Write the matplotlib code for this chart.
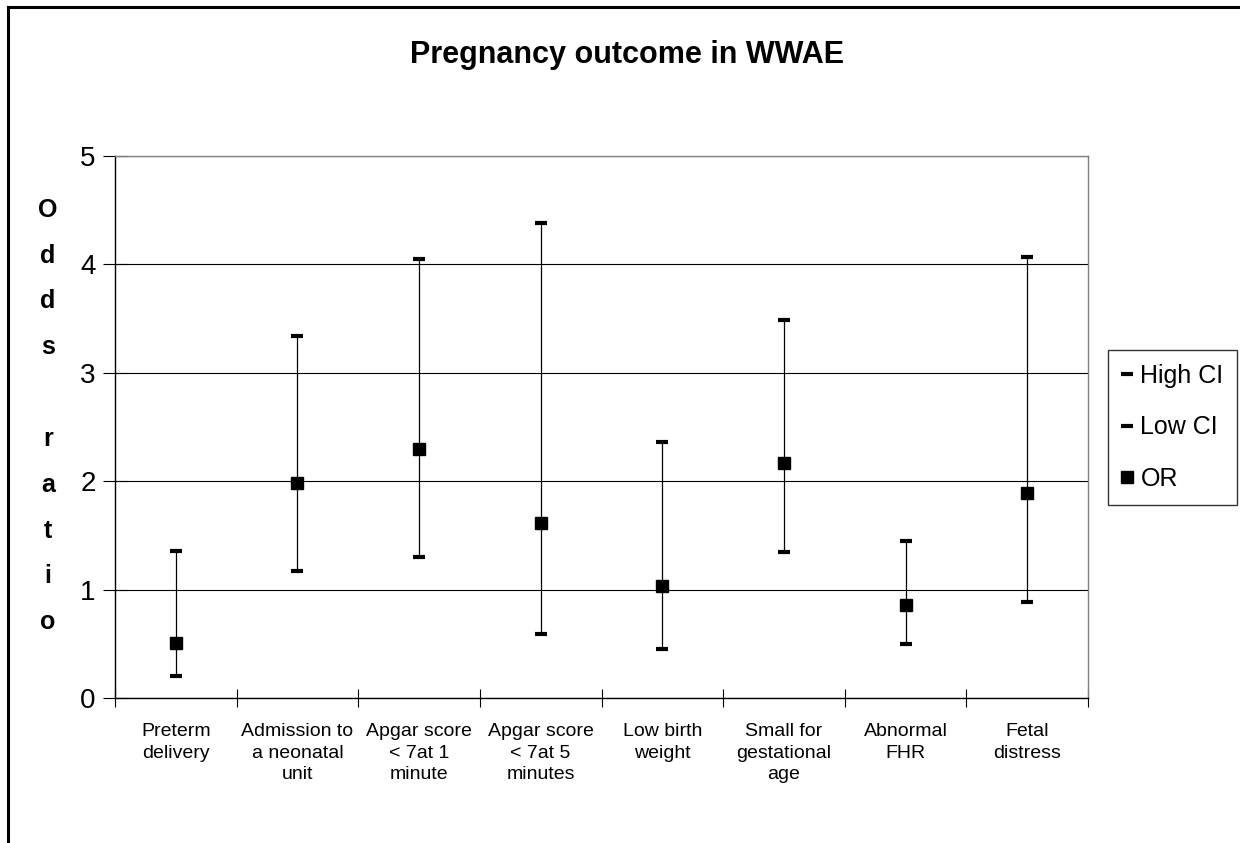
import matplotlib
matplotlib.use("Agg")
import matplotlib.pyplot as plt
from matplotlib.lines import Line2D
import numpy as np

categories = ["Preterm\ndelivery", "Admission to\na neonatal\nunit",
              "Apgar score\n< 7at 1\nminute", "Apgar score\n< 7at 5\nminutes",
              "Low birth\nweight", "Small for\ngestational\nage",
              "Abnormal\nFHR", "Fetal\ndistress"]
high_ci = [1.36, 3.34, 4.05, 4.38, 2.36, 3.49, 1.45, 4.07]
low_ci = [0.20, 1.17, 1.30, 0.59, 0.45, 1.35, 0.50, 0.89]
odds_ratio = [0.51, 1.98, 2.30, 1.61, 1.03, 2.17, 0.86, 1.89]
y_ticks = [0, 1, 2, 3, 4, 5]
title = "Pregnancy outcome in WWAE"

plt.rcParams['font.family'] = ['Liberation Sans', 'DejaVu Sans']

W, H = 1240, 843
fig = plt.figure(figsize=(W / 100, H / 100), dpi=100)
ax = fig.add_axes([115 / W, 1 - 698 / H, (1088 - 115) / W, (698 - 156) / H])

x = np.arange(len(categories))
ax.vlines(x, low_ci, high_ci, color='black', lw=0.9, zorder=3)
ax.plot(x, high_ci, ls='none', marker='_', ms=9, mew=3, color='black', label='High CI', zorder=4)
ax.plot(x, low_ci, ls='none', marker='_', ms=9, mew=3, color='black', label='Low CI', zorder=4)
ax.plot(x, odds_ratio, ls='none', marker='s', ms=8, color='black', label='OR', zorder=5)

ax.set_xlim(-0.5, len(categories) - 0.5)
ax.set_ylim(0, 5)
ax.set_yticks(y_ticks)
ax.set_yticklabels([str(t) for t in y_ticks], fontsize=20)
ax.yaxis.grid(True, color='black', lw=0.8)
ax.set_axisbelow(True)

ax.set_xticks(x)
ax.set_xticklabels(categories, fontsize=14, linespacing=1.35, ha='center', va='top')
ax.set_xticks(np.arange(len(categories) + 1) - 0.5, minor=True)
ax.tick_params(axis='x', which='major', length=0, pad=18)
ax.tick_params(axis='x', which='minor', length=13, direction='inout', width=0.8)
ax.tick_params(axis='y', which='major', length=18, direction='inout', width=0.8, pad=5)

for s in ['left', 'bottom']:
    ax.spines[s].set_color('black')
    ax.spines[s].set_linewidth(1.0)
for s in ['top', 'right']:
    ax.spines[s].set_color('#808080')
    ax.spines[s].set_linewidth(1.0)

# stacked y label
fig.text(48 / W, 1 - 416 / H, "\n".join(list("Odds")) + "\n\n" + "\n".join(list("ratio")),
         fontsize=18, fontweight='bold', ha='center', va='center', linespacing=2.15)

fig.text(627 / W, 1 - 55 / H, title, fontsize=22, fontweight='bold', ha='center', va='center')

leg = fig.legend(loc='upper left', bbox_to_anchor=(1108 / W, 1 - 350 / H), fontsize=18,
                 frameon=True, fancybox=False, edgecolor='black', handlelength=0.45,
                 handletextpad=0.3, labelspacing=1.1, borderpad=0.55, borderaxespad=0)
leg.get_frame().set_linewidth(1.0)

# chart area border (left and top visible)
fig.add_artist(Line2D([8 / W, 8 / W], [0, 1 - 7 / H], color='black', lw=2.2, transform=fig.transFigure))
fig.add_artist(Line2D([8 / W, 1], [1 - 7 / H, 1 - 7 / H], color='black', lw=2.2, transform=fig.transFigure))

fig.savefig("out.png", dpi=100)
